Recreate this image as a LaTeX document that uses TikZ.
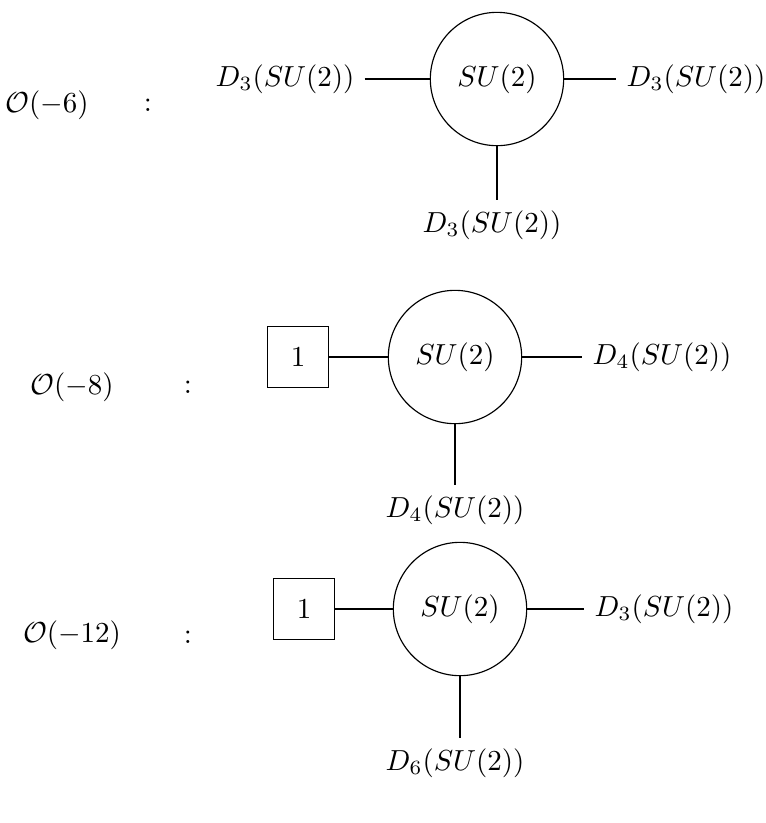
\documentclass[tikz,border=0pt]{standalone}
\usepackage{amsmath,amssymb}
\usepackage{tikz}
\usetikzlibrary{positioning}

\tikzset{
  gauge/.style={draw, circle, minimum size=46pt, inner sep=0pt},
  flavor/.style={draw, rectangle, minimum size=21pt, inner sep=0pt},
}

\begin{document}
\begin{tikzpicture}[x=0.345pt, y=-0.345pt]
    \useasboundingbox (0,0) rectangle (766,823);

    % O(-6)
    \node (o6) at (47,105) {$\mathcal{O}(-6)$};
    \node (col6) at (148,105) {:};
    \node[gauge] (g6) at (497,79) {$SU(2)$};
    \node (l6) at (285,79) {$D_3(SU(2))$};
    \node (r6) at (696,79) {$D_3(SU(2))$};
    \node (b6) at (492,225) {$D_3(SU(2))$};
    \draw (l6) -- (g6);
    \draw (g6) -- (r6);
    \draw (g6) -- (b6.north -| g6);

    % O(-8)
    \node (o8) at (72,387) {$\mathcal{O}(-8)$};
    \node (col8) at (188,387) {:};
    \node[gauge] (g8) at (455,357) {$SU(2)$};
    \node[flavor] (f8) at (298,357) {$1$};
    \node (r8) at (662,357) {$D_4(SU(2))$};
    \node (b8) at (455,510) {$D_4(SU(2))$};
    \draw (f8) -- (g8);
    \draw (g8) -- (r8);
    \draw (g8) -- (b8);

    % O(-12)
    \node (o12) at (72,635) {$\mathcal{O}(-12)$};
    \node (col12) at (188,637) {:};
    \node[gauge] (g12) at (460,609) {$SU(2)$};
    \node[flavor] (f12) at (304,609) {$1$};
    \node (r12) at (664,609) {$D_3(SU(2))$};
    \node (b12) at (455,763) {$D_6(SU(2))$};
    \draw (f12) -- (g12);
    \draw (g12) -- (r12);
    \draw (g12) -- (b12.north -| g12);
\end{tikzpicture}
\end{document}
